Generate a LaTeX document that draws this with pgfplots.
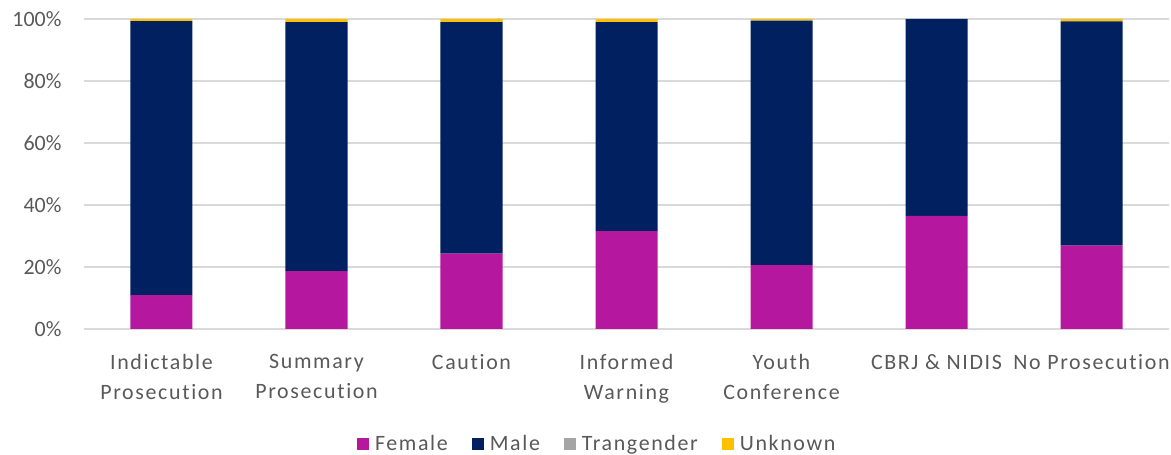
\documentclass[border=0pt]{standalone}
\usepackage{pgfplots}
\pgfplotsset{compat=1.18}
\usepackage{pgfplotstable}
\usepackage{fontspec}
\setmainfont{Carlito}
\newfontfamily\spaced[LetterSpace=7.5,Ligatures=NoCommon]{Carlito}
\definecolor{cfem}{HTML}{B5179E}
\definecolor{cmale}{HTML}{002060}
\definecolor{ctrans}{HTML}{A5A5A5}
\definecolor{cunk}{HTML}{FFC000}
\definecolor{ctext}{HTML}{595959}
\definecolor{cgrid}{HTML}{D9D9D9}
\pgfplotstableread{
x F M T U
0 10.9 88.4 0 0.7
1 18.7 80.3 0 1.0
2 24.3 74.7 0 1.0
3 31.6 67.4 0 1.0
4 20.6 78.9 0 0.5
5 36.5 63.5 0 0.0
6 26.9 72.3 0 0.8
}\datatable
\begin{document}
\begin{tikzpicture}[x=1bp,y=1bp]
\path[use as bounding box] (-84,-126) rectangle (1087,329);
\begin{axis}[
  at={(0,0)}, anchor=south west,
  scale only axis, width=1085bp, height=310bp,
  ybar stacked, bar width=62bp,
  xmin=-0.5, xmax=6.5, ymin=0, ymax=100,
  axis line style={draw=none},
  xtick=data,
  xticklabels={{Indictable\\Prosecution},{Summary\\Prosecution},{Caution},{Informed\\Warning},{Youth\\Conference},{CBRJ \& NIDIS},{No Prosecution}},
  x tick label style={align=center, font=\spaced\fontsize{22}{30}\selectfont, text=ctext, anchor=north, yshift=-22bp},
  ytick={0,20,40,60,80,100},
  yticklabel={\pgfmathprintnumber{\tick}\%},
  y tick label style={font=\fontsize{22}{26}\selectfont, text=ctext, xshift=-19bp},
  /pgf/number format/assume math mode=true,
  ymajorgrids, grid style={cgrid, line width=1.5bp},
  major tick length=0pt,
  legend style={at={(0.473,-0.37)}, anchor=center, draw=none, legend columns=4,
    font=\spaced\fontsize{22}{26}\selectfont, text=ctext,
    /tikz/every even column/.append style={column sep=22bp},
    /tikz/every odd column/.append style={column sep=4bp}},
  legend image code/.code={\fill[#1] (0bp,-6bp) rectangle (12bp,6bp);},
  clip=false,
]
\addplot[fill=cfem, draw=none] table[x=x, y=F] {\datatable};
\addlegendentry{Female}
\addplot[fill=cmale, draw=none] table[x=x, y=M] {\datatable};
\addlegendentry{Male}
\addplot[fill=ctrans, draw=none] table[x=x, y=T] {\datatable};
\addlegendentry{Trangender}
\addplot[fill=cunk, draw=none] table[x=x, y=U] {\datatable};
\addlegendentry{Unknown}
\end{axis}
\end{tikzpicture}
\end{document}
